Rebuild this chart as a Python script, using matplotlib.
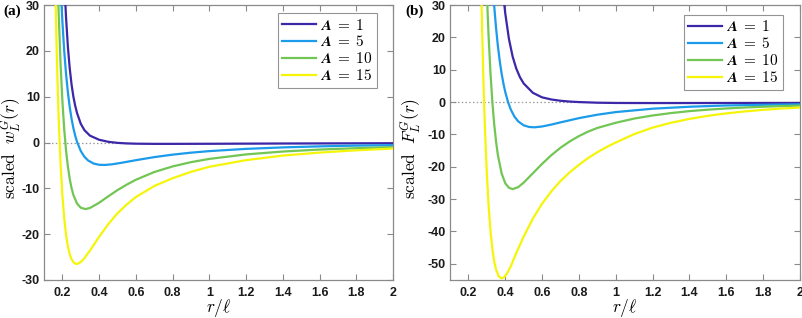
import matplotlib
matplotlib.use("Agg")
import matplotlib.pyplot as plt

plt.rcParams['mathtext.fontset'] = 'cm'
plt.rcParams['font.family'] = ['Liberation Sans', 'DejaVu Sans']

# ---------------- data ----------------
a_values = ["1", "5", "10", "15"]
colors = ["#3D26A8", "#1B9BEA", "#72C654", "#F5F50A"]

# panel (a): scaled w_L^G(r)
wa_r1 = [0.21, 0.215, 0.22, 0.23, 0.24, 0.25, 0.26, 0.27, 0.28, 0.30, 0.32, 0.35, 0.40, 0.45,
         0.50, 0.55, 0.60, 0.70, 0.80, 0.90, 1.0, 1.2, 1.4, 1.6, 1.8, 2.0]
wa_y1 = [36.0, 31.3, 27.3, 20.9, 16.2, 12.66, 10.0, 7.98, 6.41, 4.1, 2.7, 1.5, 0.6, 0.15,
         -0.08, -0.2, -0.26, -0.3, -0.3, -0.29, -0.28, -0.25, -0.22, -0.2, -0.18, -0.16]

wa_r5 = [0.19, 0.195, 0.20, 0.21, 0.22, 0.23, 0.24, 0.25, 0.26, 0.27, 0.28, 0.30, 0.32, 0.34,
         0.37, 0.40, 0.43, 0.47, 0.52, 0.60, 0.70, 0.80, 0.90, 1.0, 1.2, 1.4, 1.6, 1.8, 2.0]
wa_y5 = [34.7, 30.3, 26.46, 20.04, 14.97, 10.96, 7.75, 5.19, 3.12, 1.46, 0.12, -1.84, -3.11, -3.92,
         -4.59, -4.86, -4.90, -4.76, -4.44, -3.86, -3.19, -2.65, -2.22, -1.88, -1.39, -1.07, -0.84,
         -0.68, -0.58]

wa_r10 = [0.175, 0.18, 0.19, 0.20, 0.21, 0.22, 0.23, 0.24, 0.25, 0.26, 0.28, 0.30, 0.325, 0.35,
          0.40, 0.45, 0.50, 0.55, 0.60, 0.70, 0.80, 0.90, 1.0, 1.2, 1.4, 1.6, 1.8, 2.0]
wa_y10 = [35.0, 28.2, 17.33, 9.14, 2.96, -1.72, -5.26, -7.94, -9.95, -11.45, -13.33, -14.22,
          -14.52, -14.29, -13.15, -11.74, -10.39, -9.2, -8.13, -6.45, -5.22, -4.29, -3.58, -2.6,
          -1.97, -1.54, -1.24, -1.02]

wa_r15 = [0.160, 0.165, 0.170, 0.175, 0.180, 0.185, 0.19, 0.20, 0.21, 0.22, 0.23, 0.24, 0.25,
          0.265, 0.28, 0.30, 0.32, 0.35, 0.40, 0.45, 0.50, 0.55, 0.60, 0.70, 0.80, 0.90, 1.0,
          1.2, 1.4, 1.6, 1.8, 2.0]
wa_y15 = [37.4, 27.3, 18.7, 11.4, 5.26, 0.0, -4.47, -11.49, -16.54, -20.14, -22.66, -24.37,
          -25.49, -26.34, -26.51, -26.09, -25.24, -23.58, -20.58, -17.82, -15.44, -13.55, -11.9,
          -9.5, -7.8, -6.4, -5.3, -3.85, -2.85, -2.2, -1.7, -1.32]

# panel (b): scaled F_L^G(r)
fb_r1 = [0.38, 0.39, 0.40, 0.42, 0.44, 0.46, 0.48, 0.50, 0.55, 0.60, 0.65, 0.70, 0.75, 0.80,
         0.90, 1.0, 1.1, 1.2, 1.4, 1.6, 1.8, 2.0]
fb_y1 = [39.3, 32.7, 27.4, 19.5, 14.07, 10.31, 7.65, 5.75, 2.85, 1.45, 0.8, 0.4, 0.15, 0.0,
         -0.2, -0.28, -0.3, -0.31, -0.3, -0.29, -0.28, -0.27]

fb_r5 = [0.335, 0.34, 0.35, 0.36, 0.37, 0.38, 0.39, 0.40, 0.415, 0.43, 0.45, 0.47, 0.50, 0.53,
         0.56, 0.60, 0.65, 0.70, 0.80, 0.90, 1.0, 1.2, 1.4, 1.6, 1.8, 2.0]
fb_y5 = [33.6, 29.7, 22.9, 17.3, 12.7, 8.88, 5.72, 3.10, 0.0, -2.32, -4.51, -5.96, -7.19, -7.71,
         -7.80, -7.55, -6.96, -6.28, -4.97, -3.91, -3.1, -2.05, -1.45, -1.05, -0.85, -0.7]

fb_r10 = [0.298, 0.305, 0.31, 0.32, 0.33, 0.34, 0.35, 0.36, 0.38, 0.40, 0.42, 0.44, 0.47, 0.50,
          0.55, 0.60, 0.65, 0.70, 0.75, 0.80, 0.85, 0.90, 1.0, 1.1, 1.2, 1.3, 1.4, 1.5, 1.6,
          1.7, 1.8, 1.9, 2.0]
fb_y10 = [37.2, 26.5, 19.8, 8.74, 0.0, -6.86, -12.2, -16.4, -22.0, -25.1, -26.5, -26.9, -26.3,
          -24.9, -22.0, -19.09, -16.43, -14.12, -12.16, -10.52, -9.13, -8.0, -6.4, -5.1, -4.15,
          -3.4, -2.8, -2.35, -1.98, -1.68, -1.44, -1.25, -1.1]

fb_r15 = [0.266, 0.270, 0.275, 0.28, 0.285, 0.29, 0.30, 0.31, 0.32, 0.33, 0.34, 0.35, 0.365,
          0.38, 0.395, 0.41, 0.43, 0.46, 0.50, 0.55, 0.60, 0.65, 0.70, 0.75, 0.80, 0.85, 0.90,
          0.95, 1.0, 1.1, 1.2, 1.3, 1.4, 1.5, 1.6, 1.7, 1.8, 1.9, 2.0]
fb_y15 = [45.4, 33.8, 20.9, 9.7, 0.0, -8.46, -22.2, -32.4, -39.9, -45.4, -49.3, -51.8, -53.9,
          -54.5, -54.1, -52.9, -50.8, -46.6, -41.6, -36.0, -31.4, -27.6, -24.4, -21.7, -19.4,
          -17.3, -15.5, -13.9, -12.5, -9.9, -7.9, -6.4, -5.2, -4.25, -3.5, -2.9, -2.4, -2.0, -1.7]

xticks = [0.2, 0.4, 0.6, 0.8, 1.0, 1.2, 1.4, 1.6, 1.8, 2.0]
xticklabels = ["0.2", "0.4", "0.6", "0.8", "1", "1.2", "1.4", "1.6", "1.8", "2"]
yticks_a = [-30, -20, -10, 0, 10, 20, 30]
yticks_b = [-50, -40, -30, -20, -10, 0, 10, 20, 30]

# ---------------- figure ----------------
W, H = 803, 318
fig = plt.figure(figsize=(W / 100, H / 100), dpi=100)
ax1 = fig.add_axes([44 / W, 1 - 280 / H, 349 / W, 275 / H])
ax2 = fig.add_axes([450 / W, 1 - 280 / H, 350 / W, 275 / H])

panels = [
    (ax1, [(wa_r1, wa_y1), (wa_r5, wa_y5), (wa_r10, wa_y10), (wa_r15, wa_y15)],
     (-30, 30), yticks_a, r"$\mathrm{scaled}\ \ w_L^G(r)$", "(a)", -0.059,
     (0.954, 0.971), 3),
    (ax2, [(fb_r1, fb_y1), (fb_r5, fb_y5), (fb_r10, fb_y10), (fb_r15, fb_y15)],
     (-55, 30), yticks_b, r"$\mathrm{scaled}\ \ F_L^G(r)$", "(b)", -0.076,
     (0.951, 0.964), 405),
]

spine_col = "#8a8a8a"
for ax, series, ylim, yt, ylab, tag, ylx, legpos, tagx in panels:
    ax.axhline(0, color="#9a9a9a", lw=0.9, ls=(0, (1.2, 1.8)), zorder=1)
    for (xs, ys), c, num in zip(series, colors, a_values):
        ax.plot(xs, ys, color=c, lw=1.6, zorder=3,
                label=r"$\mathbfit{A}\;\mathbf{=}\;\mathbf{%s}$" % num)
    ax.set_xlim(0.1, 2.0)
    ax.set_ylim(*ylim)
    ax.set_xticks(xticks)
    ax.set_xticklabels(xticklabels)
    ax.set_yticks(yt)
    ax.set_yticklabels([str(v) for v in yt])
    ax.tick_params(direction="in", length=4, width=0.8, color=spine_col,
                   top=True, right=True, labelsize=9, labelcolor="#1a1a1a")
    ax.tick_params(axis="x", pad=5)
    ax.tick_params(axis="y", pad=3)
    for lbl in ax.get_xticklabels() + ax.get_yticklabels():
        lbl.set_fontweight("bold")
    for s in ax.spines.values():
        s.set_color(spine_col)
        s.set_linewidth(0.9)
    ax.set_xlabel(r"$r/\ell$", fontsize=12.5)
    ax.xaxis.set_label_coords(0.5, -0.063)
    ax.set_ylabel(ylab, fontsize=12.5)
    ax.yaxis.set_label_coords(ylx, 0.48)
    leg = ax.legend(loc="upper right", bbox_to_anchor=legpos, fontsize=11,
                    frameon=True, fancybox=False, edgecolor="#7a7a7a",
                    handlelength=2.2, handletextpad=0.25, borderpad=0.3,
                    labelspacing=0.12, borderaxespad=0.0)
    leg.get_frame().set_linewidth(0.8)
    fig.text(tagx / W, 1 - 5 / H, tag, fontsize=11, fontweight="bold",
             family="Liberation Serif", ha="left", va="top")

fig.savefig("out.png", dpi=100)
